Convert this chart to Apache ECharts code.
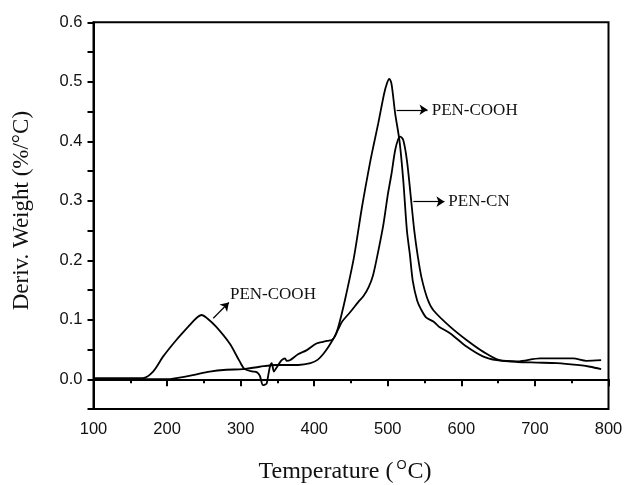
<!DOCTYPE html>
<html>
<head>
<meta charset="utf-8">
<script src="https://cdn.jsdelivr.net/npm/echarts@6/dist/echarts.min.js"></script>
<style>
html,body{margin:0;padding:0;background:#fff;}
#chart{width:624px;height:485px;}
</style>
</head>
<body>
<div id="chart"></div>
<script>
// PEN-COOH derivative weight curve
var cooh_T = [100,130,160,167,181,194.5,212.6,230.7,240,247,254,266.9,285.1,298.7,305.5,316.8,321.8,326,330.4,333,335.4,338,340,342.2,345.3,348,351.2,355.8,360.3,362.6,367,378,390,403,412,420,424,428,432,437,443,454,465,476,481,487,495,499,502,505,510,516,521,526,530,534,540,545,552,562,570,585,607,630,648,676,703,730,757,775,790];
var cooh_V = [0.002,0.002,0.002,0.002,0.013,0.038,0.066,0.091,0.103,0.108,0.103,0.088,0.060,0.030,0.017,0.013,0.012,0.006,-0.010,-0.009,-0.007,0.010,0.022,0.027,0.013,0.018,0.024,0.032,0.035,0.031,0.032,0.042,0.049,0.060,0.063,0.065,0.066,0.072,0.085,0.108,0.140,0.205,0.290,0.365,0.395,0.430,0.480,0.498,0.505,0.497,0.447,0.400,0.335,0.250,0.210,0.165,0.132,0.118,0.104,0.097,0.088,0.077,0.055,0.038,0.032,0.029,0.028,0.027,0.024,0.021,0.017];
// PEN-CN derivative weight curve
var cn_T = [100,150,200,212.6,235,258,280.5,303,326,348.5,371,378,395,405,412,418,424,428,433,438,449,460,467,474,480,487,494,500,505,510,514,517,521,526,531,536,541,546,554,562,585,607,630,652,676,707,730,752,770,790];
var cn_V = [0.000,0.000,0.000,0.002,0.007,0.013,0.016,0.017,0.021,0.024,0.024,0.024,0.027,0.033,0.042,0.052,0.064,0.072,0.085,0.097,0.113,0.130,0.140,0.155,0.175,0.215,0.260,0.310,0.345,0.385,0.403,0.408,0.402,0.368,0.310,0.250,0.205,0.170,0.135,0.116,0.088,0.066,0.046,0.032,0.030,0.035,0.035,0.035,0.031,0.032];

// axis ticks
var xMin = 100, xMax = 800, xStep = 100;
var yMin = -0.05, yMax = 0.6, yStep = 0.05;

// annotations (data coordinates)
var annoText = ['PEN-COOH','PEN-CN','PEN-COOH'];
var annoX = [559.7, 582.3, 285.5];
var annoY = [0.450, 0.297, 0.140];
var arrowFrom = [[512,0.453],[534.7,0.2985],[262.8,0.1025]];
var arrowTo = [[554,0.453],[577,0.2985],[284,0.129]];

function zip(a,b){return a.map(function(v,i){return [v,b[i]];});}

var chart = echarts.init(document.getElementById('chart'), null, {renderer:'canvas'});
var lineStyle = {color:'#000', width:1.8};
var mlData = arrowFrom.map(function(f,i){return [{coord:f},{coord:arrowTo[i]}];});

var option = {
  backgroundColor:'#fff',
  animation:false,
  grid:{left:93.5,right:15.5,top:22.3,bottom:76,containLabel:false,outerBoundsMode:'none',
    show:true,borderColor:'#000',borderWidth:2,backgroundColor:'transparent'},
  xAxis:{
    type:'value', min:xMin, max:xMax, interval:xStep,
    axisLine:{show:true,lineStyle:{color:'#000',width:2}},
    axisTick:{show:true,inside:false,length:7,lineStyle:{color:'#000',width:2}},
    minorTick:{show:true,splitNumber:2,length:4,lineStyle:{color:'#000',width:2}},
    splitLine:{show:false}, minorSplitLine:{show:false},
    axisLabel:{fontFamily:'Liberation Sans',fontSize:16.5,color:'#111',margin:12},
    name:'Temperature ({sup|O}C)', nameLocation:'middle', nameGap:50,
    nameTextStyle:{fontFamily:'Liberation Serif',fontSize:24,color:'#111',padding:[0,12,0,0],
      rich:{sup:{fontFamily:'Liberation Sans',fontSize:13,color:'#111',verticalAlign:'top',padding:[0,1,12,3]}}}
  },
  yAxis:{
    type:'value', min:yMin, max:yMax, interval:yStep, position:'left',
    axisLine:{show:true,onZero:false,lineStyle:{color:'#000',width:2}},
    axisTick:{show:true,inside:false,length:6,lineStyle:{color:'#000',width:2}},
    splitLine:{show:false},
    axisLabel:{fontFamily:'Liberation Sans',fontSize:16.5,color:'#111',margin:11,
      formatter:function(v){var r=Math.round(v*100);return (r%10===0 && r>=0)? (r/100).toFixed(1):'';}},
    name:'Deriv. Weight (%/°C)', nameLocation:'middle', nameGap:60,
    nameTextStyle:{fontFamily:'Liberation Serif',fontSize:23,color:'#111',padding:[0,0,0,10]}
  },
  series:[{
    name:'PEN-COOH', type:'line', data:zip(cooh_T,cooh_V), showSymbol:false, smooth:0.3,
    lineStyle:lineStyle, itemStyle:{color:'#000'}, silent:true,
    markLine:{silent:true, symbol:['none','arrow'], symbolSize:8,
      lineStyle:{color:'#000',width:1.2,type:'solid'}, label:{show:false}, data:mlData}
  },{
    name:'PEN-CN', type:'line', data:zip(cn_T,cn_V), showSymbol:false, smooth:0.3,
    lineStyle:lineStyle, itemStyle:{color:'#000'}, silent:true
  }]
};
chart.setOption(option);

var g = annoText.map(function(t,i){
  var p = chart.convertToPixel({gridIndex:0},[annoX[i],annoY[i]]);
  return {type:'text', left:p[0], top:p[1]-10, style:{text:t, fill:'#111', font:'17px "Liberation Serif"'}};
});
chart.setOption({graphic:g});
</script>
</body>
</html>
